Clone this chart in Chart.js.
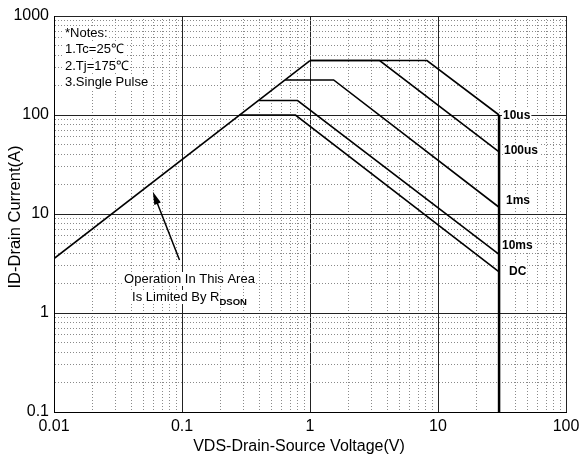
<!DOCTYPE html>
<html>
<head>
<meta charset="utf-8">
<script src="https://cdn.jsdelivr.net/npm/chart.js@4.4.1/dist/chart.umd.min.js"></script>
<style>
  html, body { margin: 0; padding: 0; background: #fff; }
  #soa { display: block; }
</style>
</head>
<body>
<canvas id="soa" width="580" height="462"></canvas>
<script>
// eixos logaritmicos: decadas e rotulos
const xMajor = [0.01, 0.1, 1, 10, 100];
const xTickLabels = ['0.01', '0.1', '1', '10', '100'];
const yMajor = [0.1, 1, 10, 100, 1000];
const yTickLabels = ['0.1', '1', '10', '100', '1000'];
const minorSteps = [2, 3, 4, 5, 6, 7, 8, 9];

// curvas SOA: VDS (V) e ID (A)
const rdsonV = [0.01, 1];
const rdsonI = [3.55, 355];
const us10V = [1, 8.2, 30];
const us10I = [355, 355, 100];
const us100V = [1, 3.5, 30];
const us100I = [355, 355, 42.5];
const ms1V = [0.64, 1.53, 30];
const ms1I = [226, 226, 11.7];
const ms10V = [0.4, 0.8, 30];
const ms10I = [140, 140, 3.9];
const dcV = [0.28, 0.77, 30];
const dcI = [100, 100, 2.6];
const limitV = [30, 30];
const limitI = [100, 0.1];

const curveNames = ['10us', '100us', '1ms', '10ms', 'DC'];
const notes = ['*Notes:', '1.Tc=25\u2103', '2.Tj=175\u2103', '3.Single Pulse'];
const xTitle = 'VDS-Drain-Source Voltage(V)';
const yTitle = 'ID-Drain Current(A)';

// seta "Operation In This Area" (coordenadas de dados)
const arrowFrom = { x: 0.0956, y: 3.43 };
const arrowTo = { x: 0.0592, y: 16.8 };

const FONT = 'Arial, "Liberation Sans", Helvetica, sans-serif';

function pts(xs, ys) {
  return xs.map((v, i) => ({ x: v, y: ys[i] }));
}

function tickList(majors) {
  const out = [];
  majors.forEach((m, i) => {
    out.push(m);
    if (i < majors.length - 1) minorSteps.forEach(s => out.push(m * s));
  });
  return out;
}

function isMajor(v, majors) {
  return majors.some(m => Math.abs(v - m) / m < 1e-6);
}

function line(label, data, width) {
  return {
    label: label,
    data: data,
    borderColor: '#000',
    borderWidth: width,
    pointRadius: 0,
    fill: false,
    tension: 0
  };
}

function boxText(c, text, x, y, align) {
  const w = c.measureText(text).width;
  const left = align === 'center' ? x - w / 2 : x;
  c.fillStyle = '#fff';
  c.fillRect(left - 1, y - 7, w + 2, 14);
  c.fillStyle = '#000';
  c.textAlign = 'left';
  c.fillText(text, left, y);
}

// titulos, notas e seta
const annotations = {
  id: 'annotations',
  afterDatasetsDraw(chart) {
    const c = chart.ctx;
    const sx = chart.scales.x, sy = chart.scales.y;
    c.save();
    c.textBaseline = 'middle';

    c.font = '13px ' + FONT;
    const noteY = [33, 49.5, 66, 82];
    notes.forEach((t, i) => boxText(c, t, 65, noteY[i], 'left'));

    c.font = 'bold 12px ' + FONT;
    const labelPos = [[503, 116], [504, 151], [506, 201], [502, 246], [509, 272]];
    curveNames.forEach((t, i) => boxText(c, t, labelPos[i][0], labelPos[i][1], 'left'));

    c.font = '13px ' + FONT;
    boxText(c, 'Operation In This Area', 189.5, 279, 'center');
    const main = 'Is Limited By R';
    const w1 = c.measureText(main).width;
    c.font = 'bold 9.5px ' + FONT;
    const w2 = c.measureText('DSON').width;
    const left = 189.5 - (w1 + w2) / 2;
    c.font = '13px ' + FONT;
    boxText(c, main, left, 297, 'left');
    c.font = 'bold 9.5px ' + FONT;
    c.fillStyle = '#000';
    c.fillText('DSON', left + w1, 302);

    // seta
    const x1 = sx.getPixelForValue(arrowFrom.x), y1 = sy.getPixelForValue(arrowFrom.y);
    const x2 = sx.getPixelForValue(arrowTo.x), y2 = sy.getPixelForValue(arrowTo.y);
    const ang = Math.atan2(y2 - y1, x2 - x1);
    c.strokeStyle = '#000';
    c.lineWidth = 1.5;
    c.beginPath();
    c.moveTo(x1, y1);
    c.lineTo(x2 - 8 * Math.cos(ang), y2 - 8 * Math.sin(ang));
    c.stroke();
    c.beginPath();
    c.moveTo(x2, y2);
    c.lineTo(x2 - 13 * Math.cos(ang) + 3.5 * Math.sin(ang), y2 - 13 * Math.sin(ang) - 3.5 * Math.cos(ang));
    c.lineTo(x2 - 13 * Math.cos(ang) - 3.5 * Math.sin(ang), y2 - 13 * Math.sin(ang) + 3.5 * Math.cos(ang));
    c.closePath();
    c.fillStyle = '#000';
    c.fill();

    // titulos dos eixos
    c.fillStyle = '#000';
    c.textAlign = 'center';
    c.font = '16px ' + FONT;
    c.fillText(xTitle, 299, 447);
    c.translate(15, 217);
    c.rotate(-Math.PI / 2);
    c.font = '16.5px ' + FONT;
    c.fillText(yTitle, 0, 0);
    c.restore();
  }
};

function axis(majors, labels, fit) {
  return {
    type: 'logarithmic',
    min: majors[0],
    max: majors[majors.length - 1],
    afterBuildTicks: s => { s.ticks = tickList(majors).map(v => ({ value: v })); },
    afterFit: fit,
    ticks: {
      autoSkip: false,
      maxRotation: 0,
      color: '#000',
      font: { size: 16, family: FONT },
      padding: 5,
      callback: v => {
        const i = majors.findIndex(m => Math.abs(v - m) / m < 1e-6);
        return i >= 0 ? labels[i] : '';
      }
    },
    grid: {
      drawTicks: false,
      color: ctx => (ctx.tick && isMajor(ctx.tick.value, majors)) ? '#222' : '#8a8a8a',
      lineWidth: 1
    },
    border: {
      display: true,
      color: '#000',
      width: 1,
      dash: ctx => (ctx.tick && !isMajor(ctx.tick.value, majors)) ? [1, 2] : []
    },
    title: { display: false }
  };
}

const ctx = document.getElementById('soa').getContext('2d');
new Chart(ctx, {
  type: 'line',
  data: {
    datasets: [
      line('RDSON', pts(rdsonV, rdsonI), 1.6),
      line(curveNames[0], pts(us10V, us10I), 1.6),
      line(curveNames[1], pts(us100V, us100I), 1.6),
      line(curveNames[2], pts(ms1V, ms1I), 1.6),
      line(curveNames[3], pts(ms10V, ms10I), 1.6),
      line(curveNames[4], pts(dcV, dcI), 1.6),
      line('limit', pts(limitV, limitI), 2.5)
    ]
  },
  options: {
    responsive: false,
    animation: false,
    devicePixelRatio: 1,
    layout: { padding: { top: 16, right: 14, left: 0, bottom: 0 } },
    plugins: { legend: { display: false }, tooltip: { enabled: false } },
    scales: {
      x: axis(xMajor, xTickLabels, s => {
        s.height = 50;
        s.paddingLeft = 0;
        s.paddingRight = 0;
      }),
      y: axis(yMajor, yTickLabels, s => { s.width = 54; })
    }
  },
  plugins: [annotations]
});
</script>
</body>
</html>
